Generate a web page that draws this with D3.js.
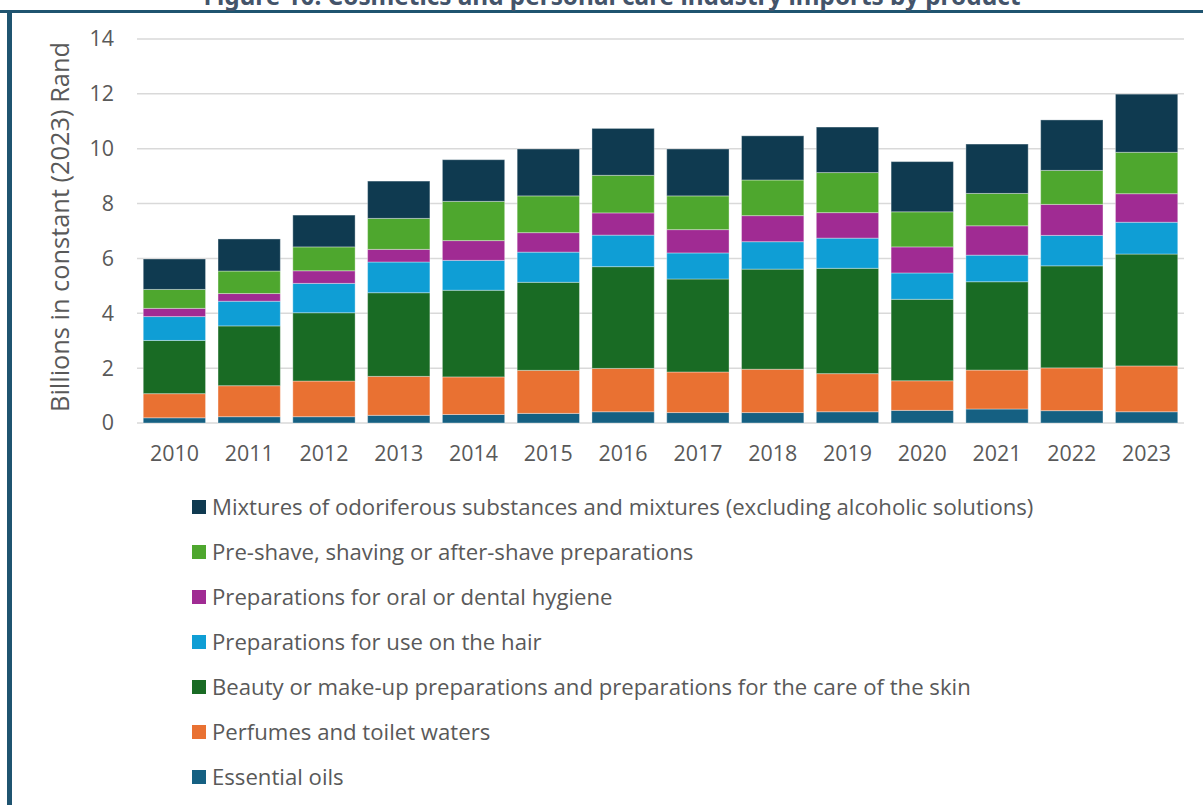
<!DOCTYPE html>
<html>
<head>
<meta charset="utf-8">
<script src="https://cdn.jsdelivr.net/npm/d3@7"></script>
<style>
  html, body { margin: 0; padding: 0; background: #fff; }
  svg { display: block; }
</style>
</head>
<body>
<svg id="chart" width="1203" height="805"></svg>
<script>
const years = ["2010","2011","2012","2013","2014","2015","2016","2017","2018","2019","2020","2021","2022","2023"];
const seriesNames = [
  "Essential oils",
  "Perfumes and toilet waters",
  "Beauty or make-up preparations and preparations for the care of the skin",
  "Preparations for use on the hair",
  "Preparations for oral or dental hygiene",
  "Pre-shave, shaving or after-shave preparations",
  "Mixtures of odoriferous substances and mixtures (excluding alcoholic solutions)"
];
const essentialOils = [0.19,0.23,0.23,0.28,0.31,0.35,0.41,0.38,0.38,0.41,0.46,0.51,0.45,0.41];
const perfumes      = [0.88,1.13,1.30,1.42,1.37,1.57,1.58,1.48,1.58,1.39,1.08,1.42,1.56,1.67];
const beauty        = [1.94,2.18,2.49,3.05,3.16,3.21,3.71,3.39,3.65,3.84,2.97,3.22,3.72,4.08];
const hair          = [0.87,0.90,1.07,1.12,1.09,1.10,1.15,0.95,1.00,1.10,0.96,0.97,1.11,1.16];
const oral          = [0.30,0.28,0.46,0.46,0.72,0.71,0.81,0.85,0.95,0.93,0.95,1.07,1.13,1.04];
const shave         = [0.69,0.82,0.87,1.13,1.43,1.34,1.37,1.23,1.30,1.46,1.28,1.18,1.24,1.51];
const mixtures      = [1.11,1.17,1.16,1.36,1.52,1.71,1.71,1.71,1.61,1.66,1.83,1.80,1.84,2.12];
const yTicks = [0,2,4,6,8,10,12,14];
const colors = ["#156082","#E97132","#196B24","#0F9ED5","#A02B93","#4EA72E","#0F3A50"];

const seriesValues = [essentialOils, perfumes, beauty, hair, oral, shave, mixtures];
const keys = seriesNames;
const table = years.map((y, i) => {
  const row = { year: y };
  keys.forEach((k, j) => row[k] = seriesValues[j][i]);
  return row;
});

const svg = d3.select("#chart");
const font = "'Open Sans', 'Noto Sans', sans-serif";
const textColor = "#595959";

// fit font size of a selection so the widest text reaches a target width
function fit(sel, targetWidth) {
  let maxW = 0;
  sel.each(function () { maxW = Math.max(maxW, this.getComputedTextLength()); });
  const fs = parseFloat(sel.attr("font-size"));
  if (maxW > 0) sel.attr("font-size", (fs * targetWidth / maxW).toFixed(2));
}

// frame
svg.append("rect").attr("x", 0).attr("y", 10).attr("width", 1203).attr("height", 3).attr("fill", "#1F5470");
svg.append("rect").attr("x", 7).attr("y", 10).attr("width", 5).attr("height", 795).attr("fill", "#1F5470");

// title (clipped at top like the reference)
const title = svg.append("text")
  .attr("x", 612).attr("y", 5)
  .attr("text-anchor", "middle")
  .attr("font-family", "'Noto Sans', 'Open Sans', sans-serif")
  .attr("font-weight", "bold")
  .attr("font-size", 19)
  .attr("fill", "#44546A")
  .text("Figure 10: Cosmetics and personal care industry imports by product");
fit(title, 817);

const x = d3.scaleBand().domain(years).range([137, 1184]).paddingInner(0.167).paddingOuter(0.0835);
const y = d3.scaleLinear().domain([0, 14]).range([423, 39]);

// gridlines
svg.append("g").selectAll("line").data(yTicks).join("line")
  .attr("x1", 137).attr("x2", 1184)
  .attr("y1", d => y(d)).attr("y2", d => y(d))
  .attr("stroke", "#D9D9D9").attr("stroke-width", 1.5);

// y tick labels
const yl = svg.append("g").selectAll("text").data(yTicks).join("text")
  .attr("x", 114).attr("y", d => y(d))
  .attr("dy", "0.35em")
  .attr("text-anchor", "end")
  .attr("font-family", font).attr("font-size", 21).attr("fill", textColor)
  .text(d => d);

// x tick labels
const xl = svg.append("g").selectAll("text").data(years).join("text")
  .attr("x", d => x(d) + x.bandwidth() / 2).attr("y", 454)
  .attr("dy", "0.35em")
  .attr("text-anchor", "middle")
  .attr("font-family", font).attr("font-size", 21).attr("fill", textColor)
  .text(d => d);
fit(xl, 49);
yl.attr("font-size", xl.attr("font-size"));

// y axis title
const yt = svg.append("text")
  .attr("transform", "translate(60,227) rotate(-90)")
  .attr("text-anchor", "middle")
  .attr("dy", "0.35em")
  .attr("font-family", font).attr("font-size", 20).attr("fill", textColor)
  .text("Billions in constant (2023) Rand");
fit(yt, 370);

// stacked bars
const stacked = d3.stack().keys(keys)(table);
svg.append("g").selectAll("g").data(stacked).join("g")
  .attr("fill", (d, i) => colors[i])
  .selectAll("rect").data(d => d).join("rect")
  .attr("x", d => x(d.data.year))
  .attr("width", x.bandwidth())
  .attr("y", d => y(d[1]))
  .attr("height", d => y(d[0]) - y(d[1]))
  .attr("stroke", "rgba(255,255,255,0.35)")
  .attr("stroke-width", 1);

// legend (reverse order)
const legendOrder = d3.range(keys.length).reverse();
const lg = svg.append("g").selectAll("g").data(legendOrder).join("g")
  .attr("transform", (d, i) => `translate(192,${507 + i * 45})`);
lg.append("rect").attr("x", 0).attr("y", -7).attr("width", 14).attr("height", 14)
  .attr("fill", d => colors[d]);
const lt = lg.append("text").attr("x", 20).attr("y", 0).attr("dy", "0.35em")
  .attr("font-family", font).attr("font-size", 20).attr("fill", textColor)
  .text(d => keys[d]);
fit(lt, 822);
</script>
</body>
</html>
